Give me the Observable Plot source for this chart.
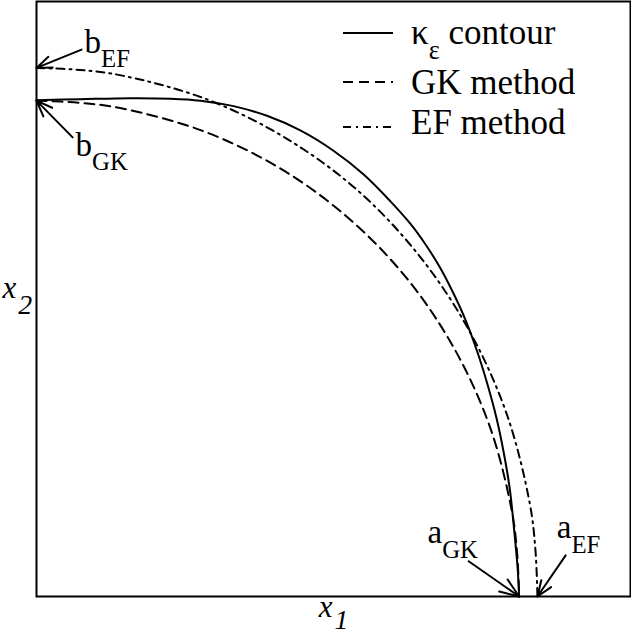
<!DOCTYPE html>
<html><head><meta charset="utf-8">
<script src="https://cdn.jsdelivr.net/npm/d3@7"></script>
<script src="https://cdn.jsdelivr.net/npm/@observablehq/plot@0.6"></script>
<style>
html,body{margin:0;padding:0;background:#fff;}
#chart svg{display:block;}
</style></head><body><div id="chart"></div>
<script>
// ---- data (in plot units) ----
// κε contour (solid)
const contourX = [0, 0.089, 0.190, 0.271, 0.331, 0.398, 0.467, 0.533, 0.600, 0.661, 0.715, 0.756, 0.786, 0.816, 0.842, 0.867, 0.891, 0.911, 0.929, 0.943, 0.956, 0.966, 0.972, 0.975];
const contourY = [1.001, 1.003, 1.005, 1.004, 1.000, 0.989, 0.969, 0.940, 0.899, 0.851, 0.797, 0.751, 0.710, 0.662, 0.612, 0.557, 0.492, 0.428, 0.361, 0.295, 0.218, 0.123, 0.057, 0];
// GK method (dashed)
const gkX = [0, 0.085, 0.169, 0.333, 0.488, 0.627, 0.747, 0.844, 0.916, 0.960, 0.971, 0.975];
const gkY = [1.0, 0.996, 0.985, 0.940, 0.866, 0.766, 0.643, 0.500, 0.342, 0.174, 0.087, 0];
// EF method (dash-dot)
const efX = [0, 0.088, 0.176, 0.346, 0.506, 0.651, 0.775, 0.876, 0.951, 0.997, 1.008, 1.012];
const efY = [1.066, 1.062, 1.050, 1.002, 0.923, 0.817, 0.685, 0.533, 0.365, 0.185, 0.093, 0];

const seriesNames = ["κ_{ε} contour", "GK method", "EF method"];

// annotated intercepts
const pointLabels = ["b_{EF}", "b_{GK}", "a_{GK}", "a_{EF}"];
const pointX = [0, 0, 0.975, 1.012];
const pointY = [1.066, 1.0, 0, 0];
const arrowFromX = [0.091, 0.073, 0.873, 1.069];
const arrowFromY = [1.103, 0.926, 0.071, 0.083];
const labelX = [0.097, 0.079, 0.790, 1.051];
const labelY = [1.097, 0.889, 0.107, 0.117];

const axisLabels = ["x_{1}", "x_{2}"];

// ---- styles ----
const dashes = [null, "10,6", "8,5,2,5"];

// pick the first installed serif face (measured against a monospace fallback)
function pickFont(cands) {
  const ctx = document.createElement("canvas").getContext("2d");
  const probe = "abcdefghijklmnopqrstuvwxyzABCDEFGHIJKLM";
  ctx.font = "40px monospace"; const base = ctx.measureText(probe).width;
  for (const f of cands) {
    ctx.font = `40px "${f}", monospace`;
    if (Math.abs(ctx.measureText(probe).width - base) > 0.5) return `"${f}", serif`;
  }
  return "serif";
}
const FONT = pickFont(["Liberation Serif", "Times New Roman", "Times", "Nimbus Roman", "DejaVu Serif", "Noto Serif", "FreeSerif"]);

const toRows = (xs, ys) => xs.map((x, i) => ({x, y: ys[i]}));
const curves = [toRows(contourX, contourY), toRows(gkX, gkY), toRows(efX, efY)];
const notes = pointLabels.map((t, i) => ({
  t, x1: arrowFromX[i], y1: arrowFromY[i], x2: pointX[i], y2: pointY[i], lx: labelX[i], ly: labelY[i]
}));

const chart = Plot.plot({
  width: 631, height: 634,
  marginLeft: 36, marginRight: 1, marginTop: 1, marginBottom: 38,
  style: {background: "#fff", overflow: "visible", fontFamily: FONT},
  x: {domain: [0, 1.2], axis: null},
  y: {domain: [0, 1.2], axis: null},
  marks: [
    Plot.frame({stroke: "black", strokeWidth: 2}),
    ...curves.map((c, i) => Plot.line(c, {
      x: "x", y: "y", curve: "catmull-rom", stroke: "black", strokeWidth: 2,
      strokeDasharray: dashes[i] ?? undefined
    })),
    Plot.arrow(notes, {x1: "x1", y1: "y1", x2: "x2", y2: "y2", bend: 0,
      headLength: 17, headAngle: 42, stroke: "black", strokeWidth: 2}),
    Plot.text(notes, {x: "lx", y: "ly", text: "t", textAnchor: "start", lineAnchor: "bottom",
      fontSize: 33, fill: "black", fontFamily: FONT}),
    Plot.text([axisLabels[0]], {frameAnchor: "bottom", dy: 20, textAnchor: "middle", lineAnchor: "bottom",
      fontSize: 31, fontStyle: "italic", fill: "black", fontFamily: FONT}),
    Plot.text([axisLabels[1]], {frameAnchor: "left", dx: -34, dy: -1.5, textAnchor: "start", lineAnchor: "bottom",
      fontSize: 31, fontStyle: "italic", fill: "black", fontFamily: FONT})
  ]
});
document.getElementById("chart").appendChild(chart);

const svg = d3.select(chart);

// legend (layout in pixels, top-right inside the frame)
const leg = {x0: 343, x1: 393, tx: 411, lineY: [33, 82, 127], baseY: [44, 94, 134]};
const lg = svg.append("g").attr("class", "legend").attr("text-anchor", "start").attr("font-family", FONT);
seriesNames.forEach((name, i) => {
  lg.append("line")
    .attr("x1", leg.x0).attr("x2", leg.x1)
    .attr("y1", leg.lineY[i]).attr("y2", leg.lineY[i])
    .attr("stroke", "black").attr("stroke-width", 2)
    .attr("stroke-dasharray", dashes[i]);
  lg.append("text")
    .attr("x", leg.tx).attr("y", leg.baseY[i])
    .attr("font-size", 35).attr("fill", "black")
    .attr("text-anchor", "start")
    .text(name);
});

// subscripts: "base_{sub}rest" -> tspans
function applySub(el) {
  let host = el;
  while (host.children.length === 1 && host.firstElementChild.tagName.toLowerCase() === "tspan") host = host.firstElementChild;
  const s = host.textContent;
  const m = s.match(/^(.*?)_\{(.*?)\}(.*)$/);
  if (!m) return;
  const cs = getComputedStyle(el);
  const fs = parseFloat(cs.fontSize);
  const italic = cs.fontStyle === "italic";
  const subFs = fs * (italic ? 0.9 : 0.75);
  let shift = fs * (italic ? 0.52 : 0.44);
  if (m[2] === "1") shift = 12;
  host.textContent = "";
  const ns = "http://www.w3.org/2000/svg";
  const a = document.createElementNS(ns, "tspan"); a.textContent = m[1]; host.appendChild(a);
  const b = document.createElementNS(ns, "tspan");
  b.textContent = m[2]; b.setAttribute("font-size", subFs); b.setAttribute("dy", shift);
  if (italic) b.setAttribute("dx", 2);
  host.appendChild(b);
  if (m[3]) {
    const c = document.createElementNS(ns, "tspan");
    c.textContent = m[3]; c.setAttribute("dy", -shift); host.appendChild(c);
  }
}
svg.selectAll("text").each(function() { applySub(this); });
</script></body></html>
